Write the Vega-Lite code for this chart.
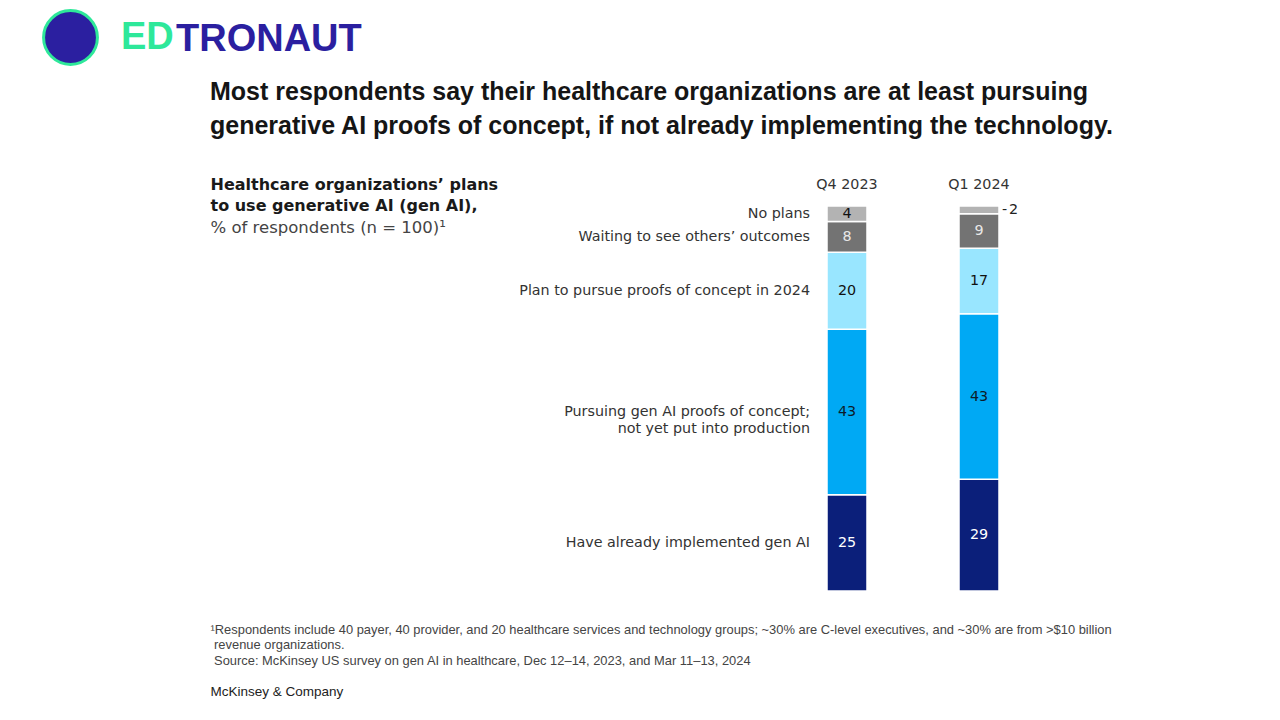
{
  "$schema": "https://vega.github.io/schema/vega-lite/v6.json",
  "width": 264,
  "height": 385,
  "autosize": {"type": "none"},
  "padding": {"left": 781, "top": 206, "right": 235, "bottom": 129},
  "background": "white",
  "config": {"view": {"stroke": null}, "font": "DejaVu Sans"},
  "title": {
    "text": ["Most respondents say their healthcare organizations are at least pursuing", "generative AI proofs of concept, if not already implementing the technology."],
    "anchor": "start",
    "frame": "group",
    "dx": -571,
    "offset": -130,
    "font": "Liberation Sans Narrow, Liberation Sans",
    "fontSize": 25,
    "fontWeight": "bold",
    "color": "#151515",
    "lineHeight": 34
  },
  "data": {
    "values": [
      {"period": "Q4 2023", "stage": 1, "category": "Have already implemented gen AI", "value": 25},
      {"period": "Q4 2023", "stage": 2, "category": "Pursuing gen AI proofs of concept;\nnot yet put into production", "value": 43},
      {"period": "Q4 2023", "stage": 3, "category": "Plan to pursue proofs of concept in 2024", "value": 20},
      {"period": "Q4 2023", "stage": 4, "category": "Waiting to see others’ outcomes", "value": 8},
      {"period": "Q4 2023", "stage": 5, "category": "No plans", "value": 4},
      {"period": "Q1 2024", "stage": 1, "category": "Have already implemented gen AI", "value": 29},
      {"period": "Q1 2024", "stage": 2, "category": "Pursuing gen AI proofs of concept;\nnot yet put into production", "value": 43},
      {"period": "Q1 2024", "stage": 3, "category": "Plan to pursue proofs of concept in 2024", "value": 17},
      {"period": "Q1 2024", "stage": 4, "category": "Waiting to see others’ outcomes", "value": 9},
      {"period": "Q1 2024", "stage": 5, "category": "No plans", "value": 2}
    ]
  },
  "layer": [
    {
      "mark": {"type": "bar", "stroke": "white", "strokeWidth": 1.5},
      "encoding": {
        "x": {
          "field": "period", "type": "nominal", "sort": ["Q4 2023", "Q1 2024"],
          "scale": {"paddingInner": 0.697, "paddingOuter": 0.3485},
          "axis": {
            "orient": "top", "labelAngle": 0, "ticks": false, "domain": false, "grid": false,
            "labelFont": "DejaVu Sans", "labelFontSize": 14.3, "labelColor": "#333333", "labelPadding": 15,
            "title": "% of respondents (n = 100)¹",
            "titleX": -571, "titleY": 13, "titleAlign": "left", "titleBaseline": "top",
            "titleFont": "DejaVu Sans", "titleFontSize": 16.5, "titleFontWeight": "normal", "titleColor": "#444444"
          }
        },
        "y": {
          "field": "value", "type": "quantitative", "stack": "zero",
          "scale": {"domain": [0, 100], "nice": false},
          "axis": {
            "labels": false, "ticks": false, "domain": false, "grid": false,
            "title": ["Healthcare organizations’ plans", "to use generative AI (gen AI),"],
            "titleAngle": 0, "titleX": -571, "titleY": -30, "titleAlign": "left", "titleBaseline": "top",
            "titleFont": "DejaVu Sans", "titleFontSize": 16, "titleFontWeight": "bold", "titleColor": "#1a1a1a", "titleLineHeight": 21
          }
        },
        "order": {"field": "stage", "type": "quantitative", "sort": "ascending"},
        "color": {
          "field": "category", "type": "nominal",
          "scale": {
            "domain": ["Have already implemented gen AI", "Pursuing gen AI proofs of concept;\nnot yet put into production", "Plan to pursue proofs of concept in 2024", "Waiting to see others’ outcomes", "No plans"],
            "range": ["#0b1f7a", "#00a9f4", "#99e6ff", "#737373", "#b3b3b3"]
          },
          "legend": null
        }
      }
    },
    {
      "mark": {"type": "text", "font": "DejaVu Sans", "fontSize": 14.3, "baseline": "middle"},
      "encoding": {
        "x": {
          "field": "period", "type": "nominal", "sort": ["Q4 2023", "Q1 2024"],
          "axis": {
            "orient": "bottom", "labels": false, "ticks": false, "domain": false, "grid": false,
            "title": ["¹Respondents include 40 payer, 40 provider, and 20 healthcare services and technology groups; ~30% are C-level executives, and ~30% are from >$10 billion", "\u200b\u00a0revenue organizations.", "\u200b\u00a0Source: McKinsey US survey on gen AI in healthcare, Dec 12–14, 2023, and Mar 11–13, 2024"],
            "titleX": -571, "titleY": 32, "titleAlign": "left", "titleBaseline": "top",
            "titleFont": "Liberation Sans Narrow, Liberation Sans", "titleFontSize": 12.9, "titleFontWeight": "normal", "titleColor": "#444444", "titleLineHeight": 15.5
          }
        },
        "y": {"field": "value", "type": "quantitative", "stack": "zero", "bandPosition": 0.5, "axis": null},
        "order": {"field": "stage", "type": "quantitative", "sort": "ascending"},
        "color": {
          "field": "category", "type": "nominal",
          "scale": {
            "domain": ["Have already implemented gen AI", "Pursuing gen AI proofs of concept;\nnot yet put into production", "Plan to pursue proofs of concept in 2024", "Waiting to see others’ outcomes", "No plans"],
            "range": ["#ffffff", "#0d1b2a", "#111111", "#e8e8e8", "#111111"]
          },
          "legend": null
        },
        "text": {"condition": {"test": "datum.value >= 3", "field": "value", "type": "quantitative"}, "value": ""}
      }
    },
    {
      "transform": [{"filter": "datum.period == 'Q4 2023'"}],
      "mark": {"type": "text", "font": "DejaVu Sans", "fontSize": 14.3, "align": "right", "baseline": "middle", "dx": -37, "lineBreak": "\n", "lineHeight": 17, "color": "#333333"},
      "encoding": {
        "x": {"field": "period", "type": "nominal", "sort": ["Q4 2023", "Q1 2024"], "axis": null},
        "y": {
          "field": "value", "type": "quantitative", "stack": "zero", "bandPosition": 0.5,
          "axis": {
            "orient": "right", "labels": false, "ticks": false, "domain": false, "grid": false,
            "title": "McKinsey & Company",
            "titleAngle": 0, "titleX": -835, "titleY": 485, "titleAlign": "left", "titleBaseline": "middle",
            "titleFont": "Liberation Sans Narrow, Liberation Sans", "titleFontSize": 13.5, "titleFontWeight": "normal", "titleColor": "#222222"
          }
        },
        "order": {"field": "stage", "type": "quantitative", "sort": "ascending"},
        "detail": {"field": "category", "type": "nominal"},
        "text": {"field": "category", "type": "nominal"}
      }
    },
    {
      "mark": {"type": "text", "font": "DejaVu Sans", "fontSize": 14.3, "align": "left", "baseline": "middle", "dx": 23},
      "encoding": {
        "x": {"field": "period", "type": "nominal", "sort": ["Q4 2023", "Q1 2024"], "axis": null},
        "y": {"field": "value", "type": "quantitative", "stack": "zero", "bandPosition": 0.5, "axis": null},
        "order": {"field": "stage", "type": "quantitative", "sort": "ascending"},
        "color": {
          "field": "category", "type": "nominal",
          "scale": {
            "domain": ["Have already implemented gen AI", "Pursuing gen AI proofs of concept;\nnot yet put into production", "Plan to pursue proofs of concept in 2024", "Waiting to see others’ outcomes", "No plans"],
            "range": ["#2b1fa0", "#222222", "#222222", "#222222", "#222222"]
          },
          "legend": {
            "orient": "none", "legendX": -739, "legendY": -197, "padding": 0,
            "values": ["Have already implemented gen AI"], "labelExpr": "'ED'",
            "title": "TRONAUT", "titleOrient": "right", "titleAnchor": "middle", "titleBaseline": "middle",
            "symbolType": "circle", "symbolSize": 2900, "symbolStrokeColor": "#2ee89a", "symbolStrokeWidth": 3,
            "labelFont": "Liberation Sans", "labelFontSize": 38, "labelFontWeight": "bold", "labelColor": "#2ee89a", "labelOffset": 22, "labelLimit": 0,
            "titleFont": "Liberation Sans", "titleFontSize": 38, "titleFontWeight": "bold", "titleColor": "#2b1fa0", "titlePadding": 2, "titleLimit": 0,
            "encode": {"symbols": {"update": {"stroke": {"value": "#2ee89a"}, "strokeWidth": {"value": 3}, "opacity": {"value": 1}}}}
          }
        },
        "text": {"condition": {"test": "datum.value < 3", "value": "-"}, "value": ""}
      }
    },
    {
      "mark": {"type": "text", "font": "DejaVu Sans", "fontSize": 14.3, "align": "left", "baseline": "middle", "dx": 30, "color": "#222222"},
      "encoding": {
        "x": {"field": "period", "type": "nominal", "sort": ["Q4 2023", "Q1 2024"], "axis": null},
        "y": {"field": "value", "type": "quantitative", "stack": "zero", "bandPosition": 0.5, "axis": null},
        "order": {"field": "stage", "type": "quantitative", "sort": "ascending"},
        "detail": {"field": "category", "type": "nominal"},
        "text": {"condition": {"test": "datum.value < 3", "field": "value", "type": "quantitative"}, "value": ""}
      }
    }
  ],
  "resolve": {"scale": {"color": "independent"}, "axis": {"x": "independent", "y": "independent"}}
}
